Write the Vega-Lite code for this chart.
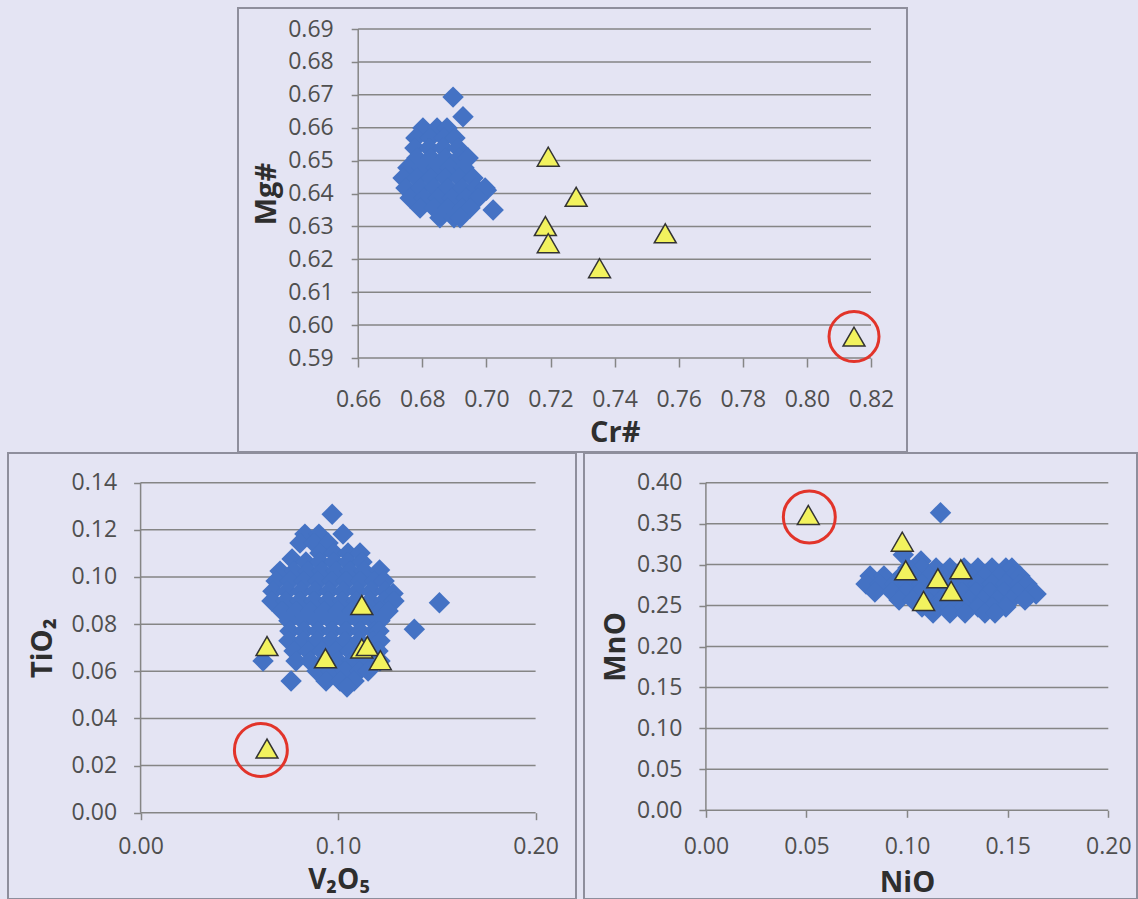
{
  "$schema": "https://vega.github.io/schema/vega-lite/v6.json",
  "background": "#E4E4F3",
  "padding": {"left": 7, "top": 7, "right": 0, "bottom": 0},
  "spacing": -2,
  "center": true,
  "config": {
    "view": {"stroke": "#8e8e9c", "strokeWidth": 2},
    "font": "Open Sans",
    "axis": {
      "domain": false, "grid": false, "ticks": true,
      "tickColor": "#858585", "tickWidth": 1.5,
      "labelFont": "Open Sans", "labelFontSize": 23, "labelColor": "#4f4f4f",
      "labelFlush": false, "labelOverlap": false, "labelBound": false,
      "titleFont": "Open Sans", "titleFontSize": 29, "titleFontWeight": "bold", "titleColor": "#2e2e2e"
    }
  },
  "datasets": {
    "top_g": [{"v":0.59},{"v":0.60},{"v":0.61},{"v":0.62},{"v":0.63},{"v":0.64},{"v":0.65},{"v":0.66},{"v":0.67},{"v":0.68},{"v":0.69}],
    "bl_g": [{"v":0},{"v":0.02},{"v":0.04},{"v":0.06},{"v":0.08},{"v":0.10},{"v":0.12},{"v":0.14}],
    "br_g": [{"v":0},{"v":0.05},{"v":0.10},{"v":0.15},{"v":0.20},{"v":0.25},{"v":0.30},{"v":0.35},{"v":0.40}],
    "top_d": [
      {"x":0.6896,"y":0.6693},{"x":0.6927,"y":0.6633},{"x":0.7000,"y":0.6410},{"x":0.7021,"y":0.6350},
      {"x":0.6802,"y":0.6599},{"x":0.6846,"y":0.6599},{"x":0.6877,"y":0.6599},
      {"x":0.6780,"y":0.6569},{"x":0.6824,"y":0.6569},{"x":0.6868,"y":0.6569},{"x":0.6902,"y":0.6569},
      {"x":0.6777,"y":0.6538},{"x":0.6821,"y":0.6538},{"x":0.6865,"y":0.6538},{"x":0.6911,"y":0.6538},
      {"x":0.6783,"y":0.6508},{"x":0.6827,"y":0.6508},{"x":0.6871,"y":0.6508},{"x":0.6915,"y":0.6508},{"x":0.6943,"y":0.6508},
      {"x":0.6755,"y":0.6478},{"x":0.6799,"y":0.6478},{"x":0.6843,"y":0.6478},{"x":0.6886,"y":0.6478},{"x":0.6930,"y":0.6478},
      {"x":0.6740,"y":0.6447},{"x":0.6783,"y":0.6447},{"x":0.6827,"y":0.6447},{"x":0.6871,"y":0.6447},{"x":0.6915,"y":0.6447},{"x":0.6958,"y":0.6447},
      {"x":0.6749,"y":0.6417},{"x":0.6793,"y":0.6417},{"x":0.6837,"y":0.6417},{"x":0.6880,"y":0.6417},{"x":0.6924,"y":0.6417},{"x":0.6968,"y":0.6417},{"x":0.6996,"y":0.6417},
      {"x":0.6762,"y":0.6386},{"x":0.6805,"y":0.6386},{"x":0.6849,"y":0.6386},{"x":0.6893,"y":0.6386},{"x":0.6936,"y":0.6386},{"x":0.6974,"y":0.6386},
      {"x":0.6793,"y":0.6356},{"x":0.6837,"y":0.6356},{"x":0.6880,"y":0.6356},{"x":0.6924,"y":0.6356},{"x":0.6949,"y":0.6356},
      {"x":0.6855,"y":0.6326},{"x":0.6899,"y":0.6326},{"x":0.6918,"y":0.6326}
    ],
    "top_t": [
      {"x":0.7193,"y":0.6512},{"x":0.7280,"y":0.6390},{"x":0.7184,"y":0.6301},{"x":0.7193,"y":0.6249},
      {"x":0.7353,"y":0.6173},{"x":0.7558,"y":0.6279},{"x":0.8147,"y":0.5965}
    ],
    "top_c": [{"x":0.8147,"y":0.5965}],
    "bl_d": [
      {"x":0.0970,"y":0.1266},
      {"x":0.0832,"y":0.1182},{"x":0.0903,"y":0.1182},{"x":0.1025,"y":0.1182},
      {"x":0.0807,"y":0.1144},{"x":0.0878,"y":0.1144},{"x":0.0949,"y":0.1144},
      {"x":0.0908,"y":0.1102},{"x":0.0979,"y":0.1102},{"x":0.1050,"y":0.1102},{"x":0.1111,"y":0.1102},
      {"x":0.0767,"y":0.1076},
      {"x":0.0837,"y":0.1064},{"x":0.0908,"y":0.1064},{"x":0.0979,"y":0.1064},{"x":0.1050,"y":0.1064},{"x":0.1121,"y":0.1064},
      {"x":0.0706,"y":0.1025},{"x":0.0777,"y":0.1025},{"x":0.0848,"y":0.1025},{"x":0.0918,"y":0.1025},{"x":0.0989,"y":0.1025},{"x":0.1060,"y":0.1025},{"x":0.1131,"y":0.1025},{"x":0.1210,"y":0.1030},
      {"x":0.0686,"y":0.0983},{"x":0.0756,"y":0.0983},{"x":0.0827,"y":0.0983},{"x":0.0898,"y":0.0983},{"x":0.0969,"y":0.0983},{"x":0.1040,"y":0.0983},{"x":0.1111,"y":0.0983},{"x":0.1182,"y":0.0983},{"x":0.1233,"y":0.0983},
      {"x":0.0670,"y":0.0940},{"x":0.0741,"y":0.0940},{"x":0.0812,"y":0.0940},{"x":0.0883,"y":0.0940},{"x":0.0954,"y":0.0940},{"x":0.1025,"y":0.0940},{"x":0.1096,"y":0.0940},{"x":0.1167,"y":0.0940},{"x":0.1238,"y":0.0940},{"x":0.1278,"y":0.0930},
      {"x":0.0665,"y":0.0898},{"x":0.0736,"y":0.0898},{"x":0.0807,"y":0.0898},{"x":0.0878,"y":0.0898},{"x":0.0949,"y":0.0898},{"x":0.1020,"y":0.0898},{"x":0.1091,"y":0.0898},{"x":0.1162,"y":0.0898},{"x":0.1233,"y":0.0898},{"x":0.1283,"y":0.0898},
      {"x":0.0716,"y":0.0856},{"x":0.0787,"y":0.0856},{"x":0.0858,"y":0.0856},{"x":0.0929,"y":0.0856},{"x":0.0999,"y":0.0856},{"x":0.1070,"y":0.0856},{"x":0.1142,"y":0.0856},{"x":0.1212,"y":0.0856},{"x":0.1253,"y":0.0856},
      {"x":0.0751,"y":0.0814},{"x":0.0822,"y":0.0814},{"x":0.0893,"y":0.0814},{"x":0.0964,"y":0.0814},{"x":0.1035,"y":0.0814},{"x":0.1106,"y":0.0814},{"x":0.1177,"y":0.0814},{"x":0.1212,"y":0.0814},
      {"x":0.0756,"y":0.0771},{"x":0.0827,"y":0.0771},{"x":0.0898,"y":0.0771},{"x":0.0969,"y":0.0771},{"x":0.1040,"y":0.0771},{"x":0.1111,"y":0.0771},{"x":0.1182,"y":0.0771},{"x":0.1207,"y":0.0771},
      {"x":0.0751,"y":0.0729},{"x":0.0822,"y":0.0729},{"x":0.0893,"y":0.0729},{"x":0.0964,"y":0.0729},{"x":0.1035,"y":0.0729},{"x":0.1106,"y":0.0729},{"x":0.1177,"y":0.0729},{"x":0.1212,"y":0.0729},
      {"x":0.0777,"y":0.0686},{"x":0.0848,"y":0.0686},{"x":0.0918,"y":0.0686},{"x":0.0989,"y":0.0686},{"x":0.1060,"y":0.0686},{"x":0.1131,"y":0.0686},{"x":0.1202,"y":0.0686},
      {"x":0.0620,"y":0.0644},{"x":0.0787,"y":0.0644},{"x":0.0858,"y":0.0644},{"x":0.0929,"y":0.0644},{"x":0.0999,"y":0.0644},{"x":0.1070,"y":0.0644},{"x":0.1142,"y":0.0644},{"x":0.1212,"y":0.0644},
      {"x":0.0893,"y":0.0601},{"x":0.0964,"y":0.0601},{"x":0.1035,"y":0.0601},{"x":0.1106,"y":0.0601},{"x":0.1152,"y":0.0601},
      {"x":0.0762,"y":0.0559},{"x":0.0939,"y":0.0559},{"x":0.1010,"y":0.0559},{"x":0.1081,"y":0.0559},
      {"x":0.1045,"y":0.0533},
      {"x":0.1513,"y":0.0891},{"x":0.1386,"y":0.0778}
    ],
    "bl_t": [
      {"x":0.0640,"y":0.0707},{"x":0.1120,"y":0.0881},{"x":0.0936,"y":0.0655},{"x":0.1120,"y":0.0697},
      {"x":0.1148,"y":0.0707},{"x":0.1214,"y":0.0647},{"x":0.0640,"y":0.0272}
    ],
    "bl_c": [{"x":0.0609,"y":0.0266}],
    "br_d": [
      {"x":0.1166,"y":0.3634},{"x":0.0981,"y":0.3120},{"x":0.1069,"y":0.3044},
      {"x":0.1004,"y":0.2958},{"x":0.1074,"y":0.2958},{"x":0.1144,"y":0.2958},{"x":0.1213,"y":0.2958},{"x":0.1283,"y":0.2958},{"x":0.1352,"y":0.2958},{"x":0.1422,"y":0.2958},{"x":0.1491,"y":0.2958},{"x":0.1521,"y":0.2958},
      {"x":0.0816,"y":0.2861},{"x":0.0885,"y":0.2861},{"x":0.0970,"y":0.2861},{"x":0.1039,"y":0.2861},{"x":0.1109,"y":0.2861},{"x":0.1179,"y":0.2861},{"x":0.1248,"y":0.2861},{"x":0.1318,"y":0.2861},{"x":0.1387,"y":0.2861},{"x":0.1457,"y":0.2861},{"x":0.1526,"y":0.2861},{"x":0.1561,"y":0.2861},
      {"x":0.0796,"y":0.2763},{"x":0.0865,"y":0.2763},{"x":0.0935,"y":0.2763},{"x":0.1004,"y":0.2763},{"x":0.1074,"y":0.2763},{"x":0.1144,"y":0.2763},{"x":0.1213,"y":0.2763},{"x":0.1283,"y":0.2763},{"x":0.1352,"y":0.2763},{"x":0.1422,"y":0.2763},{"x":0.1491,"y":0.2763},{"x":0.1561,"y":0.2763},{"x":0.1596,"y":0.2763},
      {"x":0.0840,"y":0.2666},{"x":0.0925,"y":0.2666},{"x":0.0995,"y":0.2666},{"x":0.1064,"y":0.2666},{"x":0.1134,"y":0.2666},{"x":0.1203,"y":0.2666},{"x":0.1273,"y":0.2666},{"x":0.1342,"y":0.2666},{"x":0.1412,"y":0.2666},{"x":0.1481,"y":0.2666},{"x":0.1551,"y":0.2666},{"x":0.1621,"y":0.2666},{"x":0.1641,"y":0.2640},
      {"x":0.0960,"y":0.2568},{"x":0.1029,"y":0.2568},{"x":0.1099,"y":0.2568},{"x":0.1169,"y":0.2568},{"x":0.1238,"y":0.2568},{"x":0.1308,"y":0.2568},{"x":0.1377,"y":0.2568},{"x":0.1447,"y":0.2568},{"x":0.1516,"y":0.2568},{"x":0.1586,"y":0.2568},
      {"x":0.1074,"y":0.2483},{"x":0.1144,"y":0.2483},{"x":0.1213,"y":0.2483},{"x":0.1283,"y":0.2483},{"x":0.1352,"y":0.2483},{"x":0.1422,"y":0.2483},{"x":0.1491,"y":0.2483},
      {"x":0.1129,"y":0.2409},{"x":0.1213,"y":0.2409},{"x":0.1288,"y":0.2409},{"x":0.1387,"y":0.2409},{"x":0.1437,"y":0.2409}
    ],
    "br_t": [
      {"x":0.0509,"y":0.3606},{"x":0.0976,"y":0.3280},{"x":0.0993,"y":0.2930},{"x":0.1153,"y":0.2833},
      {"x":0.1267,"y":0.2943},{"x":0.1219,"y":0.2678},{"x":0.1082,"y":0.2556}
    ],
    "br_c": [{"x":0.0514,"y":0.3581}]
  },
  "vconcat": [
    {
      "width": 669, "height": 444,
      "layer": [
        {
          "data": {"name": "top_g"},
          "mark": {"type": "rule", "color": "#858585", "strokeWidth": 1.5},
          "encoding": {
            "y": {"field": "v", "type": "quantitative", "scale": {"domain": [0.561429, 0.696383], "nice": false, "zero": false}},
            "x": {"datum": 0.66, "type": "quantitative", "scale": {"domain": [0.622496, 0.831232], "nice": false, "zero": false}},
            "x2": {"datum": 0.82}
          }
        },
        {
          "data": {"values": [{}]},
          "mark": {"type": "rule", "color": "#858585", "strokeWidth": 1.5},
          "encoding": {
            "x": {"datum": 0.66, "type": "quantitative"},
            "y": {"datum": 0.59, "type": "quantitative"},
            "y2": {"datum": 0.69}
          }
        },
        {
          "data": {"name": "top_d"},
          "mark": {"type": "point", "shape": "diamond", "filled": true, "size": 460, "color": "#4472C4", "opacity": 1},
          "encoding": {
            "x": {"field": "x", "type": "quantitative",
              "axis": {"orient": "bottom", "offset": -94, "values": [0.66,0.68,0.70,0.72,0.74,0.76,0.78,0.80,0.82], "format": ".2f",
                "tickSize": 9, "labelPadding": 21, "title": "Cr#", "titlePadding": 7, "titleX": 376.7}},
            "y": {"field": "y", "type": "quantitative",
              "axis": {"orient": "left", "offset": -120.2, "values": [0.59,0.60,0.61,0.62,0.63,0.64,0.65,0.66,0.67,0.68,0.69], "format": ".2f",
                "tickSize": 7, "labelPadding": 18, "title": "Mg#", "titlePadding": 6, "titleY": 185.5}}
          }
        },
        {
          "data": {"name": "top_t"},
          "mark": {"type": "point", "shape": "triangle-up", "filled": true, "size": 480, "fill": "#F2F25E", "stroke": "#333333", "strokeWidth": 1.5, "opacity": 1},
          "encoding": {
            "x": {"field": "x", "type": "quantitative"},
            "y": {"field": "y", "type": "quantitative"}
          }
        },
        {
          "data": {"name": "top_c"},
          "mark": {"type": "point", "shape": "circle", "filled": false, "size": 2500, "stroke": "#E2342A", "strokeWidth": 3, "opacity": 1},
          "encoding": {
            "x": {"field": "x", "type": "quantitative"},
            "y": {"field": "y", "type": "quantitative"}
          }
        }
      ]
    },
    {
      "spacing": 6,
      "hconcat": [
        {
          "width": 568, "height": 446,
          "layer": [
            {
              "data": {"name": "bl_g"},
              "mark": {"type": "rule", "color": "#858585", "strokeWidth": 1.5},
              "encoding": {
                "y": {"field": "v", "type": "quantitative", "scale": {"domain": [-0.036614, 0.152609], "nice": false, "zero": false}},
                "x": {"datum": 0, "type": "quantitative", "scale": {"domain": [-0.067139, 0.220456], "nice": false, "zero": false}},
                "x2": {"datum": 0.2}
              }
            },
            {
              "data": {"values": [{}]},
              "mark": {"type": "rule", "color": "#858585", "strokeWidth": 1.5},
              "encoding": {
                "x": {"datum": 0, "type": "quantitative"},
                "y": {"datum": 0, "type": "quantitative"},
                "y2": {"datum": 0.14}
              }
            },
            {
              "data": {"name": "bl_d"},
              "mark": {"type": "point", "shape": "diamond", "filled": true, "size": 460, "color": "#4472C4", "opacity": 1},
              "encoding": {
                "x": {"field": "x", "type": "quantitative",
                  "axis": {"orient": "bottom", "offset": -86.3, "values": [0, 0.1, 0.2], "format": ".2f",
                    "tickSize": 7, "labelPadding": 16, "title": "V₂O₅", "titlePadding": 8, "titleFontSize": 28, "titleX": 330.5}},
                "y": {"field": "y", "type": "quantitative",
                  "axis": {"orient": "left", "offset": -132.6, "values": [0,0.02,0.04,0.06,0.08,0.10,0.12,0.14], "format": ".2f",
                    "tickSize": 7, "labelPadding": 17, "title": "TiO₂", "titlePadding": 14, "titleY": 194.7}}
              }
            },
            {
              "data": {"name": "bl_t"},
              "mark": {"type": "point", "shape": "triangle-up", "filled": true, "size": 480, "fill": "#F2F25E", "stroke": "#333333", "strokeWidth": 1.5, "opacity": 1},
              "encoding": {
                "x": {"field": "x", "type": "quantitative"},
                "y": {"field": "y", "type": "quantitative"}
              }
            },
            {
              "data": {"name": "bl_c"},
              "mark": {"type": "point", "shape": "circle", "filled": false, "size": 2800, "stroke": "#E2342A", "strokeWidth": 3, "opacity": 1},
              "encoding": {
                "x": {"field": "x", "type": "quantitative"},
                "y": {"field": "y", "type": "quantitative"}
              }
            }
          ]
        },
        {
          "width": 553, "height": 446,
          "layer": [
            {
              "data": {"name": "br_g"},
              "mark": {"type": "rule", "color": "#858585", "strokeWidth": 1.5},
              "encoding": {
                "y": {"field": "v", "type": "quantitative", "scale": {"domain": [-0.108303, 0.436264], "nice": false, "zero": false}},
                "x": {"datum": 0, "type": "quantitative", "scale": {"domain": [-0.060586, 0.214264], "nice": false, "zero": false}},
                "x2": {"datum": 0.2}
              }
            },
            {
              "data": {"values": [{}]},
              "mark": {"type": "rule", "color": "#858585", "strokeWidth": 1.5},
              "encoding": {
                "x": {"datum": 0, "type": "quantitative"},
                "y": {"datum": 0, "type": "quantitative"},
                "y2": {"datum": 0.4}
              }
            },
            {
              "data": {"name": "br_d"},
              "mark": {"type": "point", "shape": "diamond", "filled": true, "size": 460, "color": "#4472C4", "opacity": 1},
              "encoding": {
                "x": {"field": "x", "type": "quantitative",
                  "axis": {"orient": "bottom", "offset": -88.7, "values": [0, 0.05, 0.1, 0.15, 0.2], "format": ".2f",
                    "tickSize": 7, "labelPadding": 18, "title": "NiO", "titlePadding": 10, "titleX": 323}},
                "y": {"field": "y", "type": "quantitative",
                  "axis": {"orient": "left", "offset": -121.9, "values": [0,0.05,0.10,0.15,0.20,0.25,0.30,0.35,0.40], "format": ".2f",
                    "tickSize": 7, "labelPadding": 17, "title": "MnO", "titlePadding": 6, "titleY": 193.5}}
              }
            },
            {
              "data": {"name": "br_t"},
              "mark": {"type": "point", "shape": "triangle-up", "filled": true, "size": 480, "fill": "#F2F25E", "stroke": "#333333", "strokeWidth": 1.5, "opacity": 1},
              "encoding": {
                "x": {"field": "x", "type": "quantitative"},
                "y": {"field": "y", "type": "quantitative"}
              }
            },
            {
              "data": {"name": "br_c"},
              "mark": {"type": "point", "shape": "circle", "filled": false, "size": 2700, "stroke": "#E2342A", "strokeWidth": 3, "opacity": 1},
              "encoding": {
                "x": {"field": "x", "type": "quantitative"},
                "y": {"field": "y", "type": "quantitative"}
              }
            }
          ]
        }
      ]
    }
  ]
}
